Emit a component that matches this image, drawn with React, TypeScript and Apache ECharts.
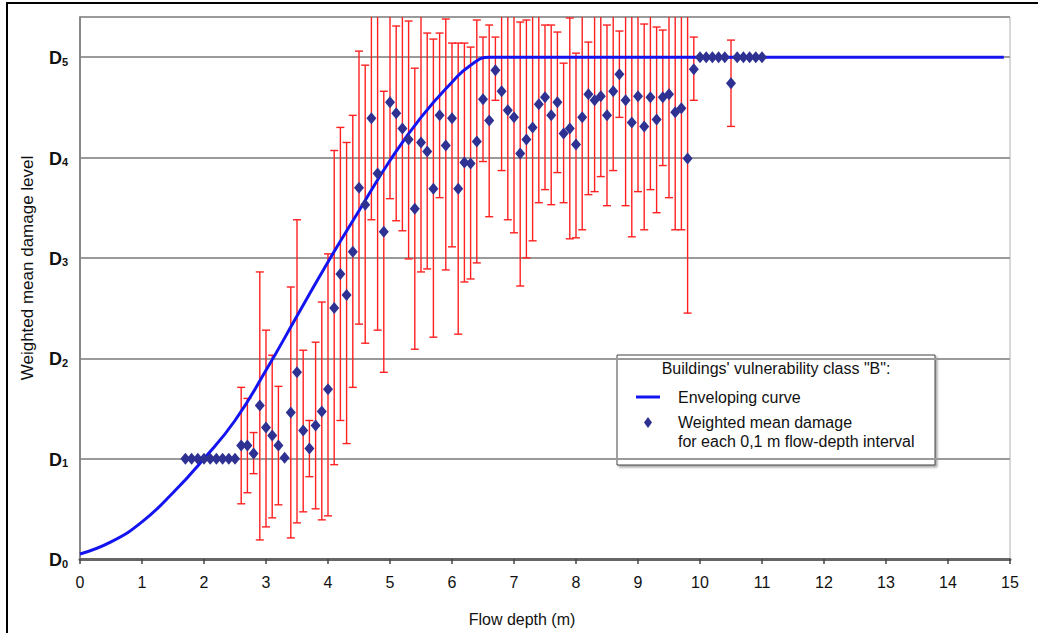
import React, { useEffect, useRef } from "react";
import * as echarts from "echarts";

// ---- data ----
const depthX = [
  1.7, 1.8, 1.9, 2.0, 2.1, 2.2, 2.3, 2.4, 2.5,
  2.6, 2.7, 2.8, 2.9, 3.0, 3.1, 3.2, 3.3, 3.4, 3.5, 3.6, 3.7, 3.8, 3.9,
  4.0, 4.1, 4.2, 4.3, 4.4, 4.5, 4.6, 4.7, 4.8, 4.9,
  5.0, 5.1, 5.2, 5.3, 5.4, 5.5, 5.6, 5.7, 5.8, 5.9,
  6.0, 6.1, 6.2, 6.3, 6.4, 6.5, 6.6, 6.7, 6.8, 6.9,
  7.0, 7.1, 7.2, 7.3, 7.4, 7.5, 7.6, 7.7, 7.8, 7.9,
  8.0, 8.1, 8.2, 8.3, 8.4, 8.5, 8.6, 8.7, 8.8, 8.9,
  9.0, 9.1, 9.2, 9.3, 9.4, 9.5, 9.6, 9.7, 9.8, 9.9,
  10.0, 10.1, 10.2, 10.3, 10.4, 10.5, 10.6, 10.7, 10.8, 10.9, 11.0,
];
const meanDamage = [
  1.0, 1.0, 1.0, 1.0, 1.0, 1.0, 1.0, 1.0, 1.0,
  1.13, 1.13, 1.05, 1.53, 1.31, 1.23, 1.13, 1.01, 1.46, 1.86, 1.28, 1.1, 1.33, 1.47,
  1.69, 2.5, 2.84, 2.63, 3.06, 3.7, 3.53, 4.39, 3.84, 3.26,
  4.55, 4.44, 4.29, 4.18, 3.49, 4.15, 4.06, 3.69, 4.42, 4.12,
  4.39, 3.69, 3.95, 3.94, 4.16, 4.58, 4.37, 4.87, 4.66, 4.47,
  4.4, 4.04, 4.18, 4.3, 4.53, 4.6, 4.42, 4.55, 4.24, 4.29,
  4.13, 4.4, 4.63, 4.57, 4.61, 4.42, 4.66, 4.83, 4.57, 4.35,
  4.61, 4.31, 4.6, 4.38, 4.6, 4.63, 4.45, 4.49, 3.99, 4.88,
  5.0, 5.0, 5.0, 5.0, 5.0, 4.74, 5.0, 5.0, 5.0, 5.0, 5.0,
];
// error bar bounds (null = no bar)
const errLow = [
  null, null, null, null, null, null, null, null, null,
  0.55, 0.66, 0.85, 0.19, 0.32, 0.41, 0.54, null, 0.21, 0.36, 0.47, 0.82, 0.5, 0.39,
  0.43, 0.94, 1.38, 1.15, 1.71, 2.34, 2.15, 3.38, 2.28, 1.86,
  3.59, 3.37, 3.27, 2.99, 2.09, 2.86, 2.89, 2.21, 3.6, 2.88,
  3.11, 2.24, 2.76, 2.79, 2.95, 3.96, 3.41, 4.57, 3.87, 3.38,
  3.25, 2.72, 3.0, 3.17, 3.55, 3.68, 3.53, 3.85, 3.55, 3.19,
  3.2, 3.28, 3.63, 3.66, 3.81, 3.52, 3.87, 4.4, 3.52, 3.21,
  3.66, 3.28, 3.68, 3.45, 3.92, 3.6, 3.28, 3.28, 2.45, 4.57,
  null, null, null, null, null, 4.31, null, null, null, null, null,
];
const errHigh = [
  null, null, null, null, null, null, null, null, null,
  1.71, 1.6, 1.26, 2.86, 2.28, 2.03, 1.72, null, 2.71, 3.38, 2.08, 1.38, 2.16, 2.56,
  3.04, 4.07, 4.3, 4.15, 4.42, 5.06, 4.92, 5.41, 5.6, 4.66,
  5.6, 5.31, 5.6, 5.36, 4.89, 5.6, 5.24, 5.18, 5.24, 5.38,
  5.14, 5.14, 5.14, 5.1, 5.37, 5.2, 5.32, 5.2, 5.6, 5.6,
  5.6, 5.35, 5.37, 5.6, 5.6, 5.32, 5.32, 5.25, 4.94, 5.39,
  5.04, 5.6, 5.15, 5.6, 5.6, 5.32, 5.6, 5.26, 5.6, 5.6,
  5.6, 5.33, 5.6, 5.3, 5.27, 5.6, 5.6, 5.6, 5.6, 5.2,
  null, null, null, null, null, 5.17, null, null, null, null, null,
];
// enveloping curve
const curveX = [0, 0.5, 1, 1.5, 2, 2.5, 3, 3.5, 4, 4.5, 5, 5.5, 6, 6.3, 6.6, 7, 10, 14.9];
const curveY = [0.05, 0.17, 0.37, 0.66, 1.0, 1.38, 1.88, 2.42, 2.96, 3.47, 3.97, 4.4, 4.75, 4.92, 5.0, 5.0, 5.0, 5.0];

const xTicks = [0, 1, 2, 3, 4, 5, 6, 7, 8, 9, 10, 11, 12, 13, 14, 15];
const yLevels = ["D0", "D1", "D2", "D3", "D4", "D5"];

const FONT = "'Liberation Sans', Arial, Helvetica, sans-serif";

export default function App() {
  const ref = useRef<HTMLDivElement>(null);

  useEffect(() => {
    if (!ref.current) return;
    const chart = echarts.init(ref.current, undefined, { renderer: "svg" });

    const scatterData = depthX.map((x, i) => [x, meanDamage[i]]);
    const barData: number[][] = [];
    depthX.forEach((x, i) => {
      if (errLow[i] != null && errHigh[i] != null) barData.push([x, errLow[i] as number, errHigh[i] as number]);
    });
    const curveData = curveX.map((x, i) => [x, curveY[i]]);

    const option: any = {
      animation: false,
      backgroundColor: "#ffffff",
      textStyle: { fontFamily: FONT },
      grid: {
        left: 80,
        right: 28,
        top: 17,
        bottom: 74,
        show: true,
        borderColor: "#b0b0b0",
        borderWidth: 1,
        backgroundColor: "transparent",
      },
      xAxis: {
        type: "value",
        min: 0,
        max: 15,
        interval: 1,
        name: "Flow depth (m)",
        nameLocation: "middle",
        nameGap: 52,
        nameTextStyle: { fontSize: 16, color: "#111", fontFamily: FONT, padding: [0, 46, 0, 0] },
        axisLine: { show: true, lineStyle: { color: "#666", width: 3 } },
        axisTick: { show: true, length: 5, lineStyle: { color: "#444", width: 1.5 } },
        splitLine: { show: false },
        axisLabel: {
          fontSize: 16,
          color: "#111",
          margin: 15,
          fontFamily: FONT,
          formatter: (v: number) => (xTicks.includes(v) ? String(v) : ""),
        },
      },
      yAxis: {
        type: "value",
        min: 0,
        max: 5.4,
        interval: 1,
        name: "Weighted mean damage level",
        nameLocation: "middle",
        nameGap: 44,
        nameTextStyle: { fontSize: 17, color: "#111", fontFamily: FONT, padding: [0, 0, 0, 40] },
        axisLine: { show: true, lineStyle: { color: "#888", width: 2 } },
        axisTick: { show: false },
        splitLine: { show: true, lineStyle: { color: "#9a9a9a", width: 2 } },
        axisLabel: {
          margin: 12,
          showMaxLabel: false,
          formatter: (v: number) => {
            if (!Number.isInteger(v) || v < 0 || v >= yLevels.length) return "";
            const s = yLevels[v];
            return `{d|${s[0]}}{s|${s.slice(1)}}`;
          },
          rich: {
            d: { fontSize: 18, fontWeight: "bold", color: "#111", fontFamily: FONT, lineHeight: 20, verticalAlign: "bottom" },
            s: { fontSize: 11, fontWeight: "bold", color: "#111", fontFamily: FONT, lineHeight: 8, verticalAlign: "bottom" },
          },
        },
      },
      series: [
        {
          name: "Error bars",
          type: "custom",
          clip: true,
          z: 2,
          data: barData,
          renderItem: (params: any, api: any) => {
            const x = api.value(0);
            const lo = api.coord([x, api.value(1)]);
            const hi = api.coord([x, api.value(2)]);
            const cap = 4;
            const style = { stroke: "#ff2020", lineWidth: 1.4 };
            return {
              type: "group",
              children: [
                { type: "line", shape: { x1: lo[0], y1: lo[1], x2: hi[0], y2: hi[1] }, style },
                { type: "line", shape: { x1: lo[0] - cap, y1: lo[1], x2: lo[0] + cap, y2: lo[1] }, style },
                { type: "line", shape: { x1: hi[0] - cap, y1: hi[1], x2: hi[0] + cap, y2: hi[1] }, style },
              ],
            };
          },
        },
        {
          name: "Enveloping curve",
          type: "line",
          z: 3,
          data: curveData,
          smooth: 0.5,
          showSymbol: false,
          symbol: "none",
          lineStyle: { color: "#1414f0", width: 3 },
        },
        {
          name: "Weighted mean damage",
          type: "scatter",
          z: 4,
          data: scatterData,
          symbol: "diamond",
          symbolSize: [10, 12],
          itemStyle: { color: "#2e3192", opacity: 1 },
        },
      ],
      graphic: [
        {
          type: "rect",
          shape: { x: 7, y: 3, width: 1100, height: 700 },
          style: { fill: "none", stroke: "#000", lineWidth: 2 },
          silent: true,
          z: 10,
        },
        {
          type: "group",
          z: 20,
          children: [
            {
              type: "rect",
              shape: { x: 617, y: 355, width: 318, height: 110 },
              style: {
                fill: "#fff",
                stroke: "#444",
                lineWidth: 1,
                shadowBlur: 2,
                shadowOffsetX: 2,
                shadowOffsetY: 2,
                shadowColor: "rgba(0,0,0,0.35)",
              },
            },
            {
              type: "text",
              x: 776,
              y: 368,
              style: {
                text: "Buildings' vulnerability class \"B\":",
                fill: "#111",
                font: `16px ${FONT}`,
                align: "center",
                verticalAlign: "middle",
              },
            },
            {
              type: "line",
              shape: { x1: 636, y1: 397, x2: 660, y2: 397 },
              style: { stroke: "#1414f0", lineWidth: 3 },
            },
            {
              type: "text",
              x: 678,
              y: 397,
              style: { text: "Enveloping curve", fill: "#111", font: `16px ${FONT}`, verticalAlign: "middle" },
            },
            {
              type: "polygon",
              shape: { points: [[648, 417], [652, 422.5], [648, 428], [644, 422.5]] },
              style: { fill: "#2e3192" },
            },
            {
              type: "text",
              x: 678,
              y: 422,
              style: { text: "Weighted mean damage", fill: "#111", font: `16px ${FONT}`, verticalAlign: "middle" },
            },
            {
              type: "text",
              x: 678,
              y: 441,
              style: { text: "for each 0,1 m flow-depth interval", fill: "#111", font: `16px ${FONT}`, verticalAlign: "middle" },
            },
          ],
        },
      ],
    };

    chart.setOption(option);
    return () => chart.dispose();
  }, []);

  return (
    <div
      ref={ref}
      style={{ position: "fixed", left: 0, top: 0, width: 1038, height: 633, background: "#fff" }}
    />
  );
}
